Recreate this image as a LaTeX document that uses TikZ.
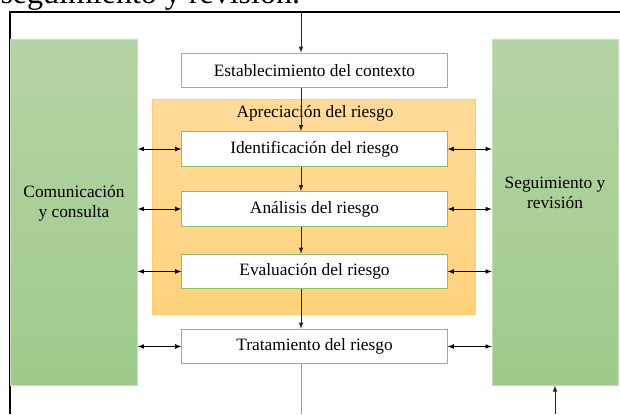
\documentclass[tikz,border=0pt]{standalone}
\usepackage{fontspec}
\setmainfont{Liberation Serif}

\definecolor{grntop}{RGB}{181,212,165}
\definecolor{grnbot}{RGB}{159,202,139}
\definecolor{grnline}{RGB}{196,224,180}
\definecolor{orgtop}{RGB}{255,219,155}
\definecolor{orgbot}{RGB}{255,210,124}
\definecolor{orgline}{RGB}{255,205,112}
\definecolor{boxline}{RGB}{140,192,102}

\tikzset{every picture/.style={line width=0.75pt}}
\tikzset{
  txt/.style={font=\fontsize{13}{15}\selectfont, align=center, inner sep=0pt},
  sidebox/.style={draw=grnline, top color=grntop, bottom color=grnbot, minimum width=95pt, minimum height=259.5pt, inner sep=0pt},
  stepbox/.style={draw=boxline, fill=white, minimum width=199pt, minimum height=26pt, inner sep=0pt, txt},
  link/.style={line width=0.6pt, color=black!85, -latex},
  twoway/.style={line width=0.6pt, color=black, latex-latex}
}

\begin{document}
\begin{tikzpicture}[x=0.75pt,y=0.75pt,yscale=-1,xscale=1]
\clip (0,0) rectangle (620,414);

% Caption Text (cut at the top)
\node [anchor=base west, font=\fontsize{24}{28}\selectfont, inner sep=0pt] (capt) at (0,3) {seguimiento y revisión.};

%Straight Lines: page frame
\draw [line width=1.5pt] (10,414) -- (10,12) -- (620,12) ;

%Shape: Rectangle (Apreciación del riesgo)
\node [draw=orgline, top color=orgtop, bottom color=orgbot, minimum width=242.25pt, minimum height=161.25pt, inner sep=0pt] (apre) at (313.5,206.5) {};
\node [txt] (aprelbl) at (315,113) {Apreciación del riesgo};

%Shape: Rectangle (side boxes)
\node [sidebox] (comm) at (74,212) {};
\node [sidebox] (seg) at (555.5,212) {};
% Text Node
\node [txt] (commlbl) at (74,203) {Comunicación\\y consulta};
% Text Node
\node [txt] (seglbl) at (555,193) {Seguimiento y\\revisión};

%Shape: Rectangle (steps)
\node [stepbox] (ctx) at (314.5,70.5) {Establecimiento del contexto};
\node [stepbox] (ident) at (314.5,149) {Identificación del riesgo};
\node [stepbox] (anal) at (314.5,209) {Análisis del riesgo};
\node [stepbox] (evalu) at (314.5,271.5) {Evaluación del riesgo};
\node [stepbox] (trat) at (314.5,346.5) {Tratamiento del riesgo};

% free ends of the lines
\coordinate (top) at (301,12);
\coordinate (bot) at (301,414);
\coordinate (feed) at (555,414);

%Straight Lines: main flow
\draw [link] (top) -- (ctx.north -| top) ;
\draw [link] (ctx.south -| top) -- (ident.north -| top) ;
\draw [link] (ident.south -| top) -- (anal.north -| top) ;
\draw [link] (anal.south -| top) -- (evalu.north -| top) ;
\draw [link] (evalu.south -| top) -- (trat.north -| top) ;
\draw [line width=0.6pt, color=black!40] (trat.south -| bot) -- (bot) ;
\draw [link] (feed) -- (seg.south -| feed) ;

%Straight Lines: both ways
\foreach \s in {ident,anal,evalu,trat}{
  \draw [twoway] (comm.east |- \s) -- (\s.west) ;
  \draw [twoway] (\s.east) -- (seg.west |- \s) ;
}

\end{tikzpicture}
\end{document}
